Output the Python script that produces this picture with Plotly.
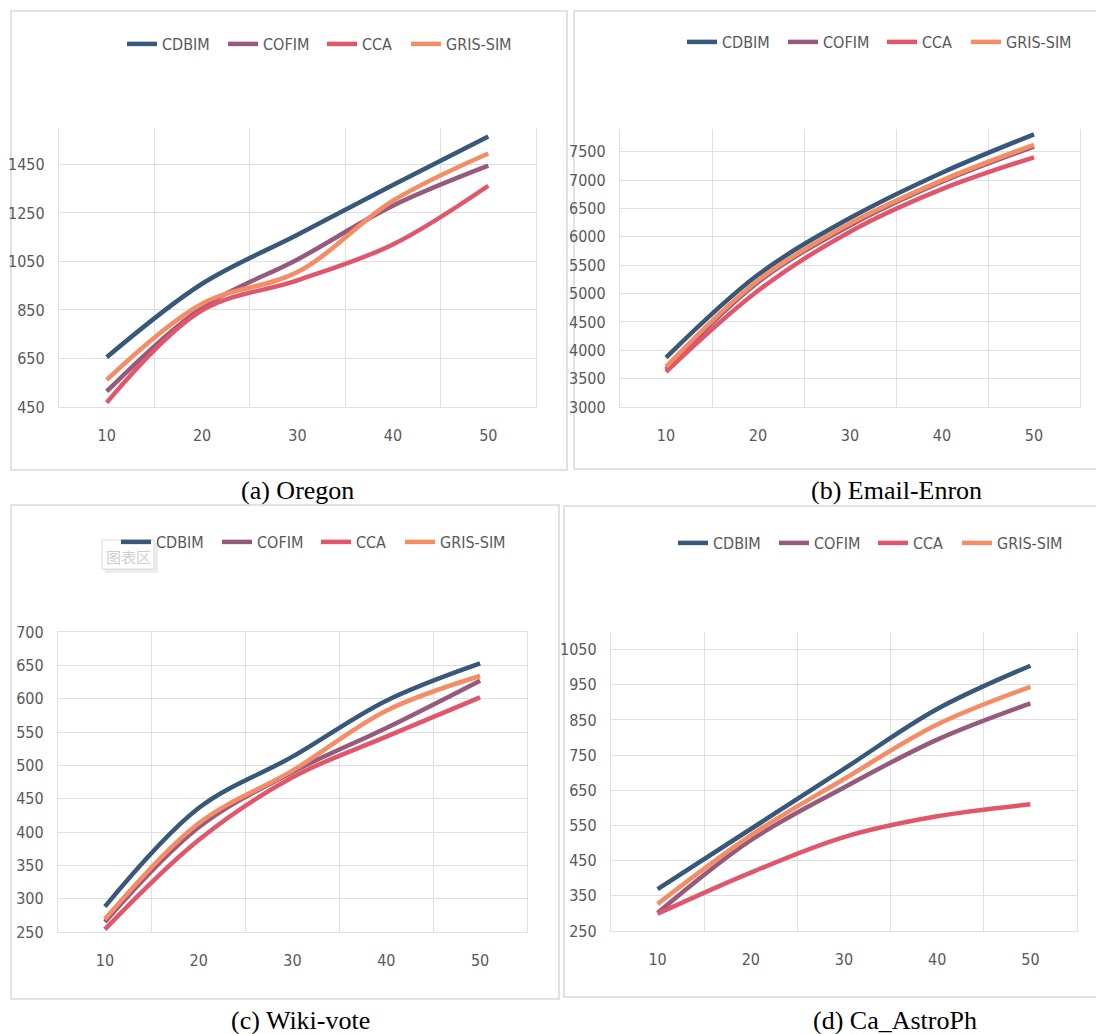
import plotly.graph_objects as go

W, H = 1104, 1034
OX, OY = 8, 8  # page body margin offset of the figure div

# ---------------- data ----------------
k_values = [10, 20, 30, 40, 50]
series_names = ["CDBIM", "COFIM", "CCA", "GRIS-SIM"]
series_colors = ["#37587A", "#965A7D", "#E2566C", "#F58C64"]

oregon_cdbim = [655, 958, 1160, 1365, 1565]
oregon_cofim = [514, 860, 1058, 1280, 1445]
oregon_cca = [468, 848, 972, 1120, 1362]
oregon_gris = [562, 876, 1006, 1300, 1495]

enron_cdbim = [3870, 5330, 6330, 7130, 7805]
enron_cofim = [3660, 5200, 6200, 6970, 7590]
enron_cca = [3620, 5050, 6090, 6840, 7400]
enron_gris = [3710, 5230, 6235, 6995, 7620]

wiki_cdbim = [288, 436, 513, 597, 653]
wiki_cofim = [265, 407, 490, 556, 627]
wiki_cca = [254, 388, 482, 543, 602]
wiki_gris = [269, 413, 492, 582, 634]

astro_cdbim = [369, 540, 711, 881, 1004]
astro_cofim = [301, 508, 658, 794, 897]
astro_cca = [299, 416, 517, 576, 610]
astro_gris = [327, 522, 682, 837, 944]

captions = ["(a) Oregon", "(b) Email-Enron", "(c) Wiki-vote", "(d) Ca_AstroPh"]
y_ranges = [[450, 1600], [3000, 7900], [250, 700], [250, 1100]]
y_tick0 = [450, 3000, 250, 250]
y_dtick = [200, 500, 50, 100]

panels = [
    [oregon_cdbim, oregon_cofim, oregon_cca, oregon_gris],
    [enron_cdbim, enron_cofim, enron_cca, enron_gris],
    [wiki_cdbim, wiki_cofim, wiki_cca, wiki_gris],
    [astro_cdbim, astro_cofim, astro_cca, astro_gris],
]

# ---------------- layout geometry (screen pixels) ----------------
plot_boxes = [  # x0, x1, y_top, y_bottom
    (59, 536, 128, 407),
    (620, 1080, 129, 407),
    (58, 527, 632, 932),
    (611, 1077, 632, 931),
]
legend_pos = [(122, 44), (682, 42), (116, 542), (673, 543)]
caption_pos = [(297, 490), (896, 490), (300, 1020), (895, 1020)]
frames = [(11, 567, 11, 470), (574, 1112, 11, 469), (11, 559, 505, 999), (564, 1112, 506, 997)]
legend_widths = [56, 54, 39, 80]

GRID = "#E0E0E0"
FONT_SANS = "Liberation Sans Narrow, DejaVu Sans Condensed, Roboto, sans-serif"
TICKFONT = dict(family=FONT_SANS, size=16, color="#595959")


def px_x(v):
    return (v - OX) / W


def px_y(v):
    return 1 - (v - OY) / H


fig = go.Figure()
legend_keys = ["legend", "legend2", "legend3", "legend4"]

for p, data in enumerate(panels):
    xa = "x" if p == 0 else f"x{p+1}"
    ya = "y" if p == 0 else f"y{p+1}"
    for s, vals in enumerate(data):
        fig.add_trace(go.Scatter(
            x=k_values, y=vals, mode="lines", name=series_names[s],
            line=dict(color=series_colors[s], width=4.5, shape="spline", smoothing=1.0),
            xaxis=xa, yaxis=ya, legend=legend_keys[p],
            legendwidth=legend_widths[s], hoverinfo="skip",
        ))

layout = dict(
    width=W, height=H, margin=dict(l=0, r=0, t=0, b=0, pad=0, autoexpand=False),
    paper_bgcolor="white", plot_bgcolor="white", showlegend=True,
)

for p in range(4):
    x0, x1, yt, yb = plot_boxes[p]
    xk = "xaxis" if p == 0 else f"xaxis{p+1}"
    yk = "yaxis" if p == 0 else f"yaxis{p+1}"
    ya = "y" if p == 0 else f"y{p+1}"
    xa = "x" if p == 0 else f"x{p+1}"
    layout[xk] = dict(
        domain=[px_x(x0), px_x(x1)], anchor=ya, range=[5, 55], automargin=False,
        tickvals=k_values, ticktext=[str(v) for v in k_values],
        showgrid=False, zeroline=False,
        minor=dict(tickvals=[15, 25, 35, 45], showgrid=True, gridcolor=GRID, gridwidth=1.3),
        showline=True, linecolor=GRID, linewidth=1.3, mirror=(p == 2),
        ticks="outside", ticklen=14, tickcolor="rgba(0,0,0,0)",
        tickfont=TICKFONT, fixedrange=True,
    )
    layout[yk] = dict(
        domain=[px_y(yb), px_y(yt)], anchor=xa, range=y_ranges[p], automargin=False,
        tick0=y_tick0[p], dtick=y_dtick[p],
        showgrid=True, gridcolor=GRID, gridwidth=1.3, zeroline=False,
        showline=True, linecolor=GRID, linewidth=1.3, mirror=True,
        ticks="outside", ticklen=10, tickcolor="rgba(0,0,0,0)",
        tickfont=TICKFONT, fixedrange=True,
    )
    lx, ly = legend_pos[p]
    layout[legend_keys[p]] = dict(
        orientation="h", x=px_x(lx), xanchor="left", y=px_y(ly), yanchor="middle",
        font=dict(family=FONT_SANS, size=16, color="#595959"),
        bgcolor="rgba(0,0,0,0)", borderwidth=0, tracegroupgap=0,
    )

shapes = []
for (fx0, fx1, fy0, fy1) in frames:
    shapes.append(dict(type="rect", xref="paper", yref="paper",
                       x0=px_x(fx0), x1=px_x(fx1), y0=px_y(fy1), y1=px_y(fy0),
                       line=dict(color="#D9D9D9", width=1.5), fillcolor="rgba(0,0,0,0)", layer="below"))

# "图表区" tooltip box (panel c)
shapes.append(dict(type="rect", xref="paper", yref="paper",
                   x0=px_x(105), x1=px_x(158), y0=px_y(573), y1=px_y(543),
                   line=dict(width=0), fillcolor="#EDEDED", layer="above"))
shapes.append(dict(type="rect", xref="paper", yref="paper",
                   x0=px_x(102), x1=px_x(154), y0=px_y(569), y1=px_y(540),
                   line=dict(color="#DADADA", width=1), fillcolor="white", layer="above"))
layout["shapes"] = shapes

annotations = []
for cap, (cx, cy) in zip(captions, caption_pos):
    annotations.append(dict(text=cap, x=px_x(cx), y=px_y(cy), xref="paper", yref="paper",
                            xanchor="center", yanchor="middle", showarrow=False,
                            font=dict(family="Liberation Serif, Times New Roman, serif", size=26, color="black")))
annotations.append(dict(text="图表区", x=px_x(128), y=px_y(556), xref="paper", yref="paper",
                        xanchor="center", yanchor="middle", showarrow=False,
                        font=dict(family="Noto Sans CJK SC", size=15, color="#CFCFCF")))
layout["annotations"] = annotations

fig.update_layout(**layout)
fig.write_html("out.html")
